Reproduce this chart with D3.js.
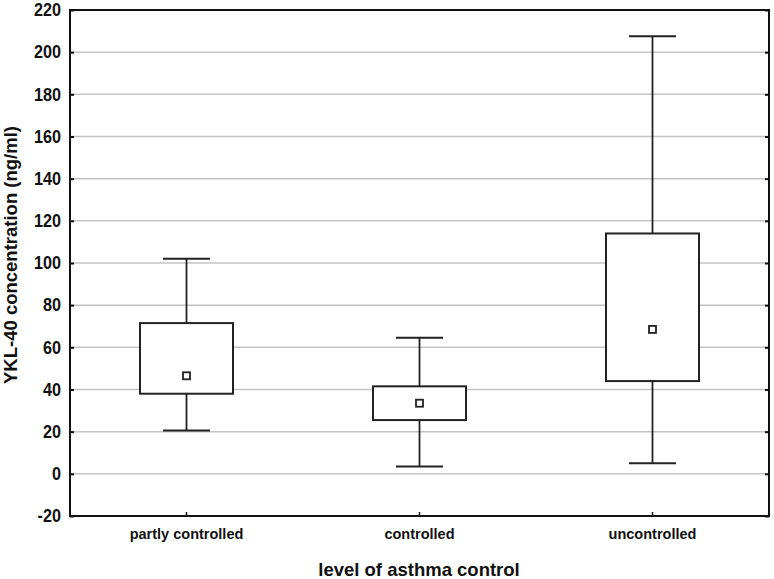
<!DOCTYPE html>
<html>
<head>
<meta charset="utf-8">
<script src="https://cdn.jsdelivr.net/npm/d3@7"></script>
<style>
  body { margin: 0; background: #fff; }
  text { font-family: "Liberation Sans", Arial, sans-serif; font-weight: bold; fill: #111; }
</style>
</head>
<body>
<div id="chart"></div>
<script>
const categories = ["partly controlled", "controlled", "uncontrolled"];
const whiskerLow = [20.5, 3.5, 5];
const boxLow = [38, 25.5, 44];
const means = [46.5, 33.5, 68.5];
const boxHigh = [71.5, 41.5, 114];
const whiskerHigh = [102, 64.5, 207.5];
const yTicks = [-20, 0, 20, 40, 60, 80, 100, 120, 140, 160, 180, 200, 220];

const width = 774, height = 579;
const margin = {top: 10, right: 5, bottom: 63, left: 70};
const plotW = width - margin.left - margin.right,
    plotH = height - margin.top - margin.bottom;

const svg = d3.select("#chart").append("svg")
    .attr("width", width)
    .attr("height", height);

const g = svg.append("g")
    .attr("transform", `translate(${margin.left}, ${margin.top})`);

let xScale = d3.scaleBand()
    .domain(categories)
    .range([0, plotW]);

let yScale = d3.scaleLinear()
    .domain([-20, 220])
    .range([plotH, 0]);

// grid lines
g.selectAll(".grid")
    .data(yTicks.filter(d => d > -20 && d < 220))
    .join("line")
    .attr("x1", 0)
    .attr("x2", plotW)
    .attr("y1", d => yScale(d))
    .attr("y2", d => yScale(d))
    .attr("stroke", "#c4c4c4")
    .attr("stroke-width", 1.5);

// left axis, ticks pointing inward, narrow tall labels
const labelSqueeze = 0.9;
const leftAxis = g.append("g")
    .call(d3.axisLeft(yScale).tickValues(yTicks).tickFormat(d => String(d))
        .tickSizeInner(-4).tickSizeOuter(0).tickPadding(9));
leftAxis.select(".domain").remove();
leftAxis.selectAll("line").attr("stroke", "#111").attr("stroke-width", 2);
leftAxis.selectAll("text")
    .style("font-size", "18px")
    .style("fill", "#111")
    .attr("x", -9 / labelSqueeze)
    .attr("transform", `scale(${labelSqueeze}, 1)`);

// right axis ticks
const rightAxis = g.append("g")
    .attr("transform", `translate(${plotW}, 0)`)
    .call(d3.axisRight(yScale).tickValues(yTicks).tickSizeInner(-4).tickSizeOuter(0).tickFormat(""));
rightAxis.select(".domain").remove();
rightAxis.selectAll("line").attr("stroke", "#111").attr("stroke-width", 2);

// bottom axis
const bottomAxis = g.append("g")
    .attr("transform", `translate(0, ${plotH})`)
    .call(d3.axisBottom(xScale).tickSizeInner(-4).tickSizeOuter(0).tickPadding(13));
bottomAxis.select(".domain").remove();
bottomAxis.selectAll("line").attr("stroke", "#111").attr("stroke-width", 1.5);
bottomAxis.selectAll("text").style("font-size", "14.5px").style("fill", "#111");

// frame
g.append("rect")
    .attr("x", 0)
    .attr("y", 0)
    .attr("width", plotW)
    .attr("height", plotH)
    .attr("fill", "none")
    .attr("stroke", "#111")
    .attr("stroke-width", 2);

// boxes
const boxW = 93, capW = 47, markSize = 7;
const boxes = g.selectAll(".box")
    .data(categories)
    .join("g")
    .attr("class", "box")
    .attr("transform", d => `translate(${xScale(d) + xScale.bandwidth() / 2}, 0)`);

boxes.append("line")
    .attr("x1", 0).attr("x2", 0)
    .attr("y1", (d, i) => yScale(whiskerHigh[i]))
    .attr("y2", (d, i) => yScale(boxHigh[i]))
    .attr("stroke", "#222").attr("stroke-width", 1.8);
boxes.append("line")
    .attr("x1", 0).attr("x2", 0)
    .attr("y1", (d, i) => yScale(boxLow[i]))
    .attr("y2", (d, i) => yScale(whiskerLow[i]))
    .attr("stroke", "#222").attr("stroke-width", 1.8);
boxes.append("line")
    .attr("x1", -capW / 2).attr("x2", capW / 2)
    .attr("y1", (d, i) => yScale(whiskerHigh[i]))
    .attr("y2", (d, i) => yScale(whiskerHigh[i]))
    .attr("stroke", "#222").attr("stroke-width", 2);
boxes.append("line")
    .attr("x1", -capW / 2).attr("x2", capW / 2)
    .attr("y1", (d, i) => yScale(whiskerLow[i]))
    .attr("y2", (d, i) => yScale(whiskerLow[i]))
    .attr("stroke", "#222").attr("stroke-width", 2);
boxes.append("rect")
    .attr("x", -boxW / 2)
    .attr("width", boxW)
    .attr("y", (d, i) => yScale(boxHigh[i]))
    .attr("height", (d, i) => yScale(boxLow[i]) - yScale(boxHigh[i]))
    .attr("fill", "#fff")
    .attr("stroke", "#222").attr("stroke-width", 2);
boxes.append("rect")
    .attr("x", -markSize / 2)
    .attr("width", markSize)
    .attr("y", (d, i) => yScale(means[i]) - markSize / 2)
    .attr("height", markSize)
    .attr("fill", "#fff")
    .attr("stroke", "#222").attr("stroke-width", 1.8);

// axis titles
svg.append("text")
    .attr("x", 419)
    .attr("y", 576)
    .attr("text-anchor", "middle")
    .style("font-size", "18.5px")
    .text("level of asthma control");

svg.append("text")
    .attr("transform", `translate(17, 255) rotate(-90)`)
    .attr("text-anchor", "middle")
    .style("font-size", "18.5px")
    .text("YKL-40 concentration (ng/ml)");
</script>
</body>
</html>
